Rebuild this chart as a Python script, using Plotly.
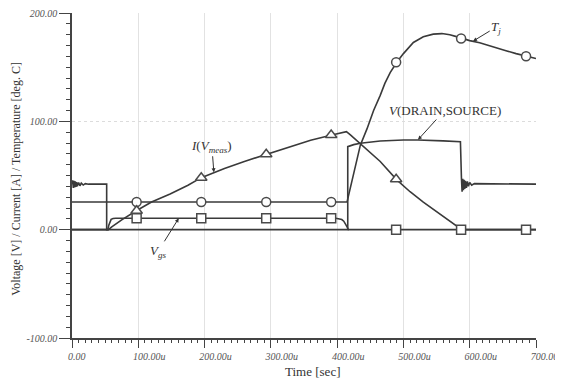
import plotly.graph_objects as go

# ---------------- data (time in microseconds) ----------------
time_vds = [0, 1, 2, 3, 4, 5, 6, 7, 8, 10, 12, 14, 17, 20, 25, 52.3, 52.3, 416, 416, 425, 435, 465, 500, 522, 560, 586,
            587.5, 588.5, 589.5, 590.5, 591.5, 592.5, 593.5, 595, 596.5, 598, 600, 603, 607, 700]
vds = [42, 45.5, 38.5, 45, 39, 44.5, 39.5, 44, 40, 43.5, 40.5, 43, 41.2, 42.5, 42, 42, 0, 0, 76.6, 78.5, 79.7, 81.8, 82.8, 82.8, 82, 81.2,
       48, 35, 47, 36.5, 46, 37.5, 45, 38.5, 44.5, 40, 43.5, 41, 42.5, 42]

time_tj = [0, 415, 417, 420, 425, 430, 435, 445, 455, 465, 472, 480, 490, 500, 515, 530, 545, 558, 570, 580, 588,
           600, 615, 635, 656, 670, 685, 700]
tj = [25.6, 25.6, 31, 39, 51, 64, 78, 93, 110, 124, 135, 145, 154.5, 162.5, 172.8, 178, 180.5, 181, 180, 178.2, 176.5,
      174.5, 172.5, 168.5, 165, 162.5, 160, 158]

time_i = [0, 55, 60, 75, 97, 120, 148, 175, 195, 230, 260, 293, 330, 360, 392, 405, 414, 420, 435, 450, 465, 490,
          510, 530, 550, 565, 575, 583, 588, 700]
i_meas = [0, 0, 2.5, 9, 17.5, 25.5, 33, 41, 48, 56.5, 63, 69.6, 77, 82.5, 87.4, 89.5, 90.5, 87.5, 79.5, 71, 62.9, 46,
          35, 25.5, 16.5, 10.5, 6, 2.5, 0, 0]

time_vgs = [0, 54, 55.5, 57, 59, 62, 66, 398, 403, 407, 410, 413, 415, 417, 700]
vgs = [0, 0, 4, 7.5, 9.5, 10.3, 10.5, 10.5, 10.2, 9.3, 7.8, 5, 2.5, 0, 0]

marker_t = [97.5, 195, 293, 391, 489, 587, 685]
tj_markers = [25.6, 25.6, 25.6, 25.6, 154.5, 176.5, 160]
vgs_markers = [10.5, 10.5, 10.5, 10.5, 0, 0, 0]
i_marker_t = [97.5, 195, 293, 391, 489]
i_markers = [17.5, 48, 69.6, 87.4, 46.5]

x_tickvals = [0, 100, 200, 300, 400, 500, 600, 700]
x_ticktext = ["0.00" + "\u00a0" * 5, "100.00u", "200.00u", "300.00u", "400.00u", "500.00u", "600.00u", "700.00u"]
y_tickvals = [-100, 0, 100, 200]
y_ticktext = ["-100.00", "0.00", "100.00", "200.00"]

x_title = "Time [sec]"
y_title = "Voltage [V] / Current [A] / Temperature [deg. C]"

LINE = "#3a3a3a"
MK = "#4a4a4a"
SERIF = "Liberation Serif, Times New Roman, serif"

fig = go.Figure()
for xs, ys in [(time_vgs, vgs), (time_i, i_meas), (time_tj, tj), (time_vds, vds)]:
    fig.add_trace(go.Scatter(x=xs, y=ys, mode="lines", line=dict(color=LINE, width=1.6),
                             showlegend=False, hoverinfo="skip", cliponaxis=True))

fig.add_trace(go.Scatter(x=marker_t, y=tj_markers, mode="markers", showlegend=False,
                         marker=dict(symbol="circle", size=9, color="white", line=dict(color=MK, width=1.5))))
fig.add_trace(go.Scatter(x=marker_t, y=vgs_markers, mode="markers", showlegend=False,
                         marker=dict(symbol="square", size=9, color="white", line=dict(color=MK, width=1.5))))
fig.add_trace(go.Scatter(x=i_marker_t, y=i_markers, mode="markers", showlegend=False,
                         marker=dict(symbol="triangle-up", size=10, color="white", line=dict(color=MK, width=1.5))))

ann_font = dict(family=SERIF, size=13, color="#333")
annos = [
    dict(text="<i>T</i><sub><i>j</i></sub>", x=605, y=174, ax=640, ay=187),
    dict(text="<i>V</i>(DRAIN,SOURCE)", x=522, y=83, ax=562, ay=110),
    dict(text="<i>I</i>(<i>V</i><sub><i>meas</i></sub>)", x=214, y=53, ax=211, ay=77),
    dict(text="<i>V</i><sub><i>gs</i></sub>", x=161, y=10.5, ax=130, ay=-20),
]
for a in annos:
    fig.add_annotation(text=a["text"], x=a["x"], y=a["y"], ax=a["ax"], ay=a["ay"],
                       xref="x", yref="y", axref="x", ayref="y", showarrow=True,
                       arrowhead=2, arrowsize=0.8, arrowwidth=1, arrowcolor="#333",
                       font=ann_font)

# axis titles as paper-anchored annotations for precise placement
fig.add_annotation(text=x_title, xref="paper", yref="paper", x=0.519, y=0, yshift=-33,
                   xanchor="center", yanchor="middle", showarrow=False,
                   font=dict(family=SERIF, size=13, color="#333"))
fig.add_annotation(text=y_title, xref="paper", yref="paper", x=0, y=0.49, xshift=-56,
                   xanchor="center", yanchor="middle", textangle=-90, showarrow=False,
                   font=dict(family=SERIF, size=12, color="#333"))

fig.update_layout(
    width=563, height=379,
    margin=dict(l=64, r=35, t=5, b=49),
    paper_bgcolor="white", plot_bgcolor="white",
    showlegend=False,
)
fig.update_xaxes(
    automargin=False,
    range=[0, 700], tickvals=x_tickvals, ticktext=x_ticktext,
    tickfont=dict(family=SERIF, size=10, color="#555", style="italic"),
    ticklabelshift=11, ticklabeloverflow="allow",
    showline=True, linecolor="#444", linewidth=1.5,
    ticks="outside", ticklen=8, tickcolor="#444",
    minor=dict(ticks="outside", dtick=10, ticklen=3, tickcolor="#444", showgrid=False),
    showgrid=True, gridcolor="#e2e2e2", gridwidth=1, zeroline=False,
)
fig.update_yaxes(
    automargin=False,
    range=[-100, 200], tickvals=y_tickvals, ticktext=y_ticktext,
    tickfont=dict(family=SERIF, size=10, color="#555", style="italic"),
    ticklabeloverflow="allow",
    showline=True, linecolor="#444", linewidth=1.5,
    ticks="outside", ticklen=11, tickcolor="#444",
    minor=dict(ticks="outside", dtick=10, ticklen=4, tickcolor="#444", showgrid=False),
    showgrid=True, gridcolor="#dcdcdc", gridwidth=1, griddash="dot", zeroline=False,
)

fig.write_html("out.html")
